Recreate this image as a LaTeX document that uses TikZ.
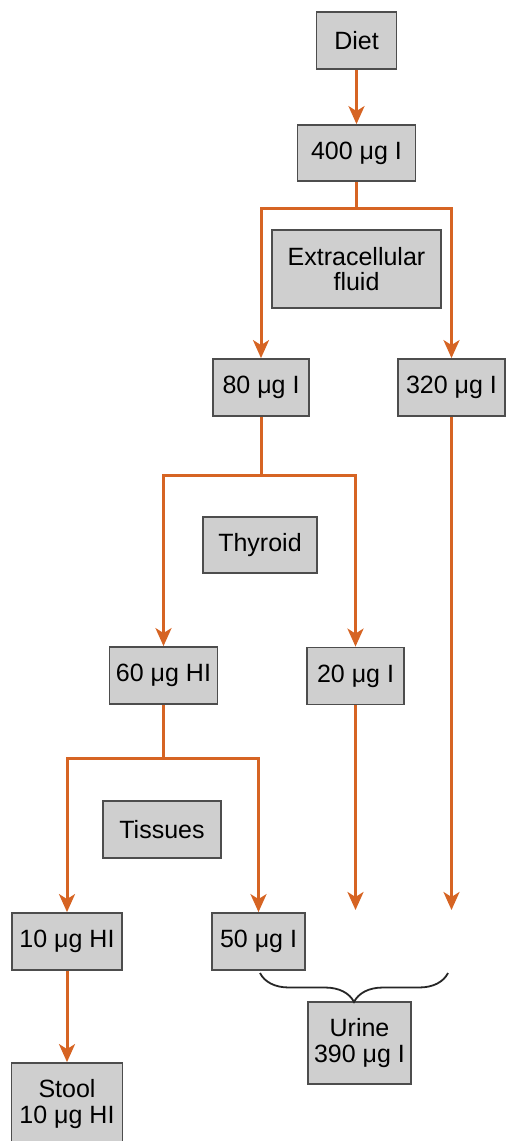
\documentclass[tikz,border=0pt]{standalone}
\usepackage{fontspec}
\setmainfont{Liberation Sans}
\usetikzlibrary{arrows.meta,decorations.pathreplacing}
\definecolor{flowc}{RGB}{214,100,35}
\definecolor{boxfill}{RGB}{207,207,207}
\definecolor{boxline}{RGB}{77,77,77}
\tikzset{
  box/.style={draw=boxline,fill=boxfill,line width=1.8pt,inner sep=0pt,align=center,
    font=\fontsize{25}{25.5}\selectfont},
  flow/.style={draw=flowc,line width=3pt,-{Stealth[length=18pt,width=16pt,inset=5pt]}},
  flowline/.style={draw=flowc,line width=3pt},
  bracec/.style={draw=black!85,line width=1.8pt,decorate,decoration={brace,mirror,amplitude=29pt}}
}
\begin{document}
\begin{tikzpicture}[x=1pt,y=-1pt]
\useasboundingbox (0,0) rectangle (508,1141);
% boxes
\node[box,minimum width=80pt,minimum height=57pt] (diet) at (356.5,40.5) {Diet};
\node[box,minimum width=118pt,minimum height=56pt] (i400) at (356.5,153) {400 μg I};
\node[box,minimum width=169pt,minimum height=78pt] (ecf) at (356.5,269) {Extracellular\\fluid};
\node[box,minimum width=96pt,minimum height=57pt] (i80) at (261,387.5) {80 μg I};
\node[box,minimum width=107pt,minimum height=57pt] (i320) at (451.5,387.5) {320 μg I};
\node[box,minimum width=114pt,minimum height=56pt] (thy) at (260,545) {Thyroid};
\node[box,minimum width=108pt,minimum height=57pt] (hi60) at (163.5,675.5) {60 μg HI};
\node[box,minimum width=97pt,minimum height=57pt] (i20) at (355.5,676) {20 μg I};
\node[box,minimum width=118pt,minimum height=57pt] (tis) at (162,829.5) {Tissues};
\node[box,minimum width=110pt,minimum height=57pt] (hi10) at (67,941.5) {10 μg HI};
\node[box,minimum width=93pt,minimum height=57pt] (i50) at (258.5,941.5) {50 μg I};
\node[box,minimum width=103pt,minimum height=82pt] (urine) at (359.5,1043) {Urine\\390 μg I};
\node[box,minimum width=111pt,minimum height=82pt] (stool) at (67,1104) {Stool\\10 μg HI};
% junctions and free ends
\coordinate (s1) at (356.5,208);
\coordinate (s2) at (261,475);
\coordinate (s3) at (163.5,758);
\coordinate (e1) at (355.5,910);
\coordinate (e2) at (451.5,910);
\coordinate (b1) at (260,973);
\coordinate (b2) at (448,973);
% connectors
\draw[flow] (diet.south) -- (i400.north);
\draw[flowline] (i400.south) -- (s1);
\draw[flow] (s1) -| (i80.north);
\draw[flow] (s1) -| (i320.north);
\draw[flowline] (i80.south) -- (s2);
\draw[flow] (s2) -| (hi60.north);
\draw[flow] (s2) -| (i20.north);
\draw[flowline] (hi60.south) -- (s3);
\draw[flow] (s3) -| (hi10.north);
\draw[flow] (s3) -| (i50.north);
\draw[flow] (i20.south) -- (e1);
\draw[flow] (i320.south) -- (e2);
\draw[flow] (hi10.south) -- (stool.north);
\draw[bracec] (b1) -- (b2);
\end{tikzpicture}
\end{document}
